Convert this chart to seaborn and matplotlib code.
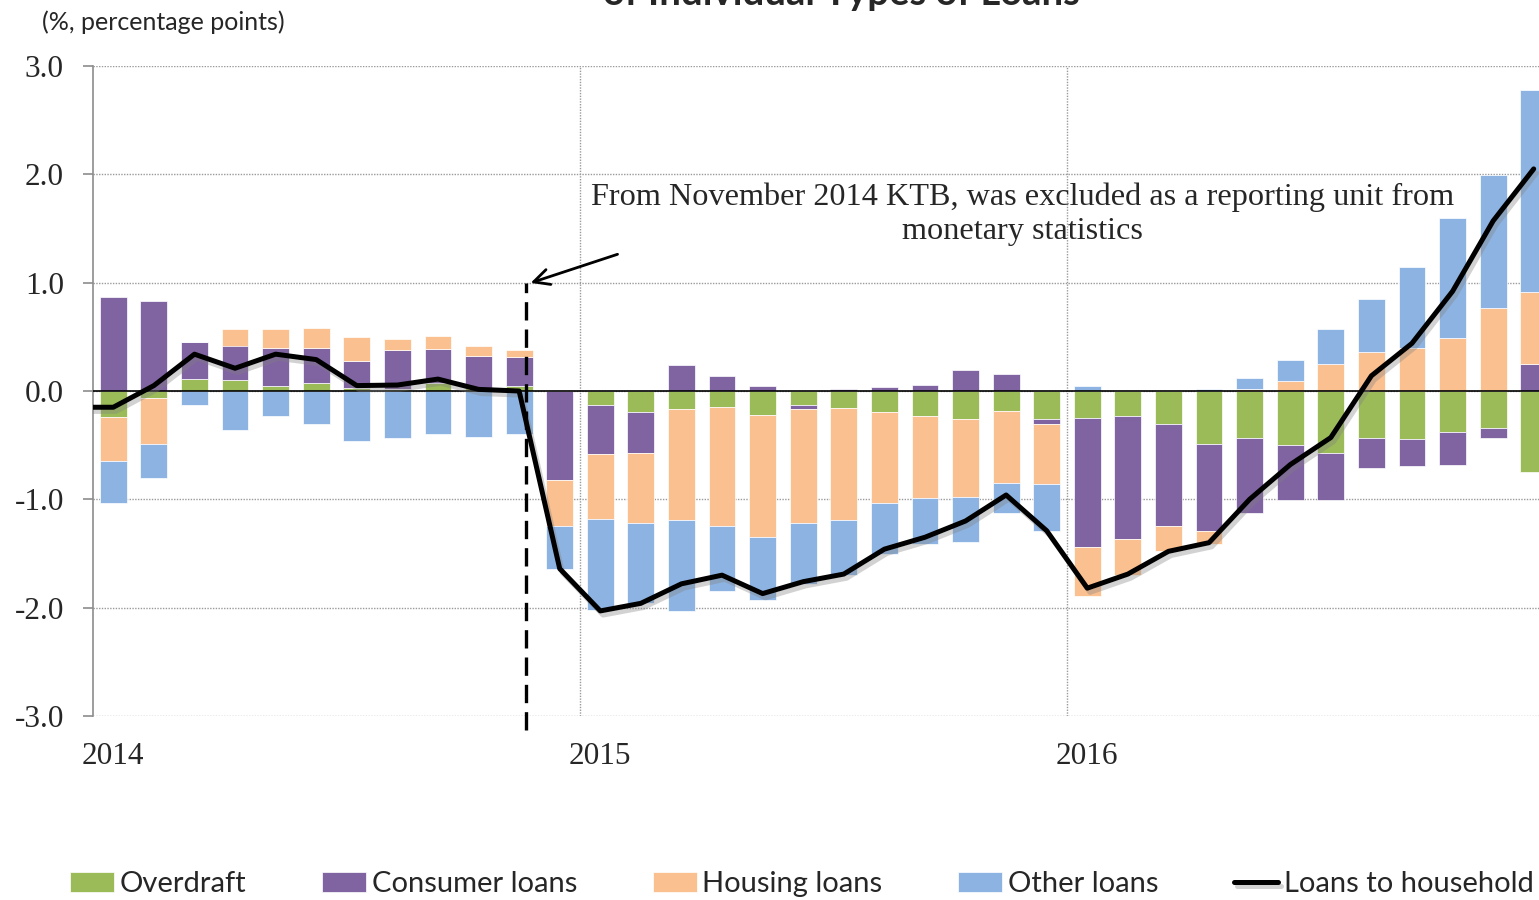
import numpy as np
import pandas as pd
import seaborn as sns
import matplotlib.pyplot as plt
import matplotlib.patheffects as pe

# monthly contributions (percentage points), Jan 2014 - Dec 2016
months = pd.period_range('2014-01', '2016-12', freq='M').strftime('%Y-%m').tolist()

overdraft = [-0.24, -0.06, 0.11, 0.10, 0.05, 0.07, 0.03, 0.02, 0.07, 0.03, 0.05, 0.00,
             -0.13, -0.19, -0.17, -0.15, -0.22, -0.13, -0.16, -0.19, -0.23, -0.26, -0.18, -0.26,
             -0.25, -0.23, -0.30, -0.49, -0.43, -0.50, -0.57, -0.43, -0.44, -0.38, -0.34, -0.75]
consumer = [0.87, 0.83, 0.34, 0.32, 0.35, 0.33, 0.25, 0.36, 0.32, 0.29, 0.26, -0.82,
            -0.45, -0.38, 0.24, 0.14, 0.05, -0.04, 0.015, 0.035, 0.055, 0.195, 0.16, -0.04,
            -1.19, -1.14, -0.95, -0.80, -0.70, -0.51, -0.44, -0.28, -0.25, -0.30, -0.09, 0.25]
housing = [-0.41, -0.43, 0.00, 0.15, 0.17, 0.18, 0.22, 0.10, 0.12, 0.10, 0.07, -0.43,
           -0.60, -0.65, -1.02, -1.10, -1.13, -1.05, -1.03, -0.84, -0.76, -0.72, -0.67, -0.56,
           -0.45, -0.33, -0.23, -0.12, 0.02, 0.09, 0.25, 0.36, 0.40, 0.49, 0.77, 0.66]
other = [-0.38, -0.31, -0.13, -0.36, -0.23, -0.30, -0.46, -0.43, -0.40, -0.42, -0.40, -0.39,
         -0.84, -0.74, -0.84, -0.60, -0.58, -0.56, -0.51, -0.47, -0.42, -0.41, -0.28, -0.43,
         0.05, 0.00, 0.00, 0.02, 0.10, 0.20, 0.32, 0.49, 0.74, 1.11, 1.22, 1.87]

# growth of loans to households (%), line starts one month earlier
household_months = ['2013-12'] + months
household = [-0.15, -0.15, 0.05, 0.34, 0.21, 0.34, 0.29, 0.05, 0.055, 0.11, 0.015, 0.0, -1.64,
             -2.03, -1.96, -1.78, -1.70, -1.87, -1.76, -1.69, -1.46, -1.35, -1.20, -0.96, -1.29,
             -1.82, -1.69, -1.48, -1.40, -1.00, -0.68, -0.43, 0.14, 0.44, 0.92, 1.57, 2.05]

year_labels = ['2014', '2015', '2016']
note = 'From November 2014 KTB, was excluded as a reporting unit from\nmonetary statistics'

sns.set_style('white')
plt.rcParams['font.family'] = ['Liberation Serif', 'DejaVu Serif']
plt.rcParams['axes.unicode_minus'] = False

df = pd.DataFrame({'month': months, 'Overdraft': overdraft, 'Consumer loans': consumer,
                   'Housing loans': housing, 'Other loans': other})
df['pos'] = np.arange(len(df))
line_df = pd.DataFrame({'month': household_months, 'value': household})
line_df['pos'] = np.arange(len(line_df)) - 1

fig = plt.figure(figsize=(15.39, 9), dpi=100)
ax = fig.add_axes([93/1539, 1-716/900, 1461/1539, 650/900])

series = [('Overdraft', '#9BBB59'), ('Consumer loans', '#8064A2'),
          ('Housing loans', '#FAC090'), ('Other loans', '#8DB3E2')]
pos_base = np.zeros(len(df))
neg_base = np.zeros(len(df))
for name, col in series:
    vals = df[name].to_numpy()
    bottom = np.where(vals >= 0, pos_base, neg_base)
    ax.bar(df['pos'], vals, bottom=bottom, width=0.66, color=col,
           edgecolor='white', linewidth=0.5, label=name, zorder=2)
    pos_base += np.clip(vals, 0, None)
    neg_base += np.clip(vals, None, 0)

ax.axhline(0, color='black', lw=1.2, zorder=3)

sns.lineplot(data=line_df, x='pos', y='value', color='black', linewidth=3.6, ax=ax,
             label='Loans to household', zorder=4,
             path_effects=[pe.SimpleLineShadow(offset=(2, -3), shadow_color='gray', alpha=0.35),
                           pe.Normal()])
if ax.get_legend():
    ax.get_legend().remove()

# KTB break marker
ktb_pos = 10.17
ax.vlines(ktb_pos, -3.13, 1.0, color='black', lw=2.4, linestyles=(0, (5.5, 2.7)),
          zorder=5, clip_on=False)
ax.annotate('', xy=(ktb_pos + 0.05, 0.99), xytext=(12.49, 1.27),
            arrowprops=dict(arrowstyle='->', lw=2, color='black', mutation_scale=28))
ax.text(22.4, 1.63, note, ha='center', va='center', fontsize=23.2)

ax.set_xlim(-0.5, 35.5)
ax.set_ylim(-3, 3)
ax.set_yticks(range(-3, 4))
ax.set_yticklabels([f'{v:.1f}' for v in range(-3, 4)], fontsize=22.5)
ax.set_xticks([0, 12, 24])
ax.set_xticklabels(year_labels, fontsize=22.5)
ax.set_xticks([11.5, 23.5], minor=True)
ax.set_xlabel('')
ax.set_ylabel('')
ax.set_axisbelow(True)
ax.yaxis.grid(True, color='#9a9a9a', linestyle=(0, (1, 1)), lw=1)
ax.xaxis.grid(True, which='minor', color='#9a9a9a', linestyle=(0, (1, 1)), lw=1)
ax.xaxis.grid(False, which='major')
ax.tick_params(axis='y', length=7, color='#8c8c8c', width=1.2, pad=14, left=True)
ax.tick_params(axis='x', which='both', length=0, pad=19)
for s in ['top', 'right', 'bottom']:
    ax.spines[s].set_visible(False)
ax.spines['left'].set_color('#8c8c8c')
ax.spines['left'].set_linewidth(1.2)

fig.text(42/1539, 1-22/900, '(%, percentage points)', family='Lato', fontsize=18,
         ha='left', va='center')
fig.text(841/1539, 1-5/900, 'of Individual Types of Loans', family='Lato', fontsize=27.5,
         fontweight='bold', ha='center', va='baseline')

handles, labels = ax.get_legend_handles_labels()
order = [labels.index(n) for n, _ in series] + [labels.index('Loans to household')]
fig.legend([handles[i] for i in order], [labels[i] for i in order],
           loc='center left', bbox_to_anchor=(70/1539, 1-884/900),
           ncol=5, frameon=False, prop={'family': 'Lato', 'size': 21},
           handlelength=1.5, handletextpad=0.2, columnspacing=2.6,
           borderaxespad=0, borderpad=0)

fig.savefig('out.png', dpi=100)
